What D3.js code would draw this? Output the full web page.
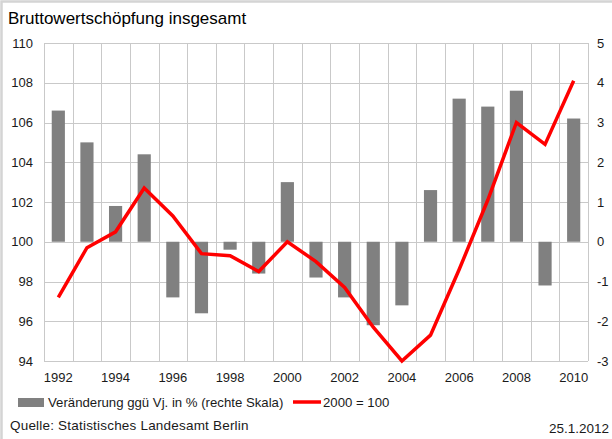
<!DOCTYPE html>
<html>
<head>
<meta charset="utf-8">
<script src="https://cdn.jsdelivr.net/npm/d3@7"></script>
<style>
  body { margin: 0; background: #fff; }
  svg { display: block; font-family: "Liberation Sans", Arial, sans-serif; }
</style>
</head>
<body>
<div id="chart"></div>
<script>
// Bruttowertschöpfung insgesamt - Berlin

// Data
let years = ["1992", "1993", "1994", "1995", "1996", "1997", "1998", "1999", "2000", "2001",
             "2002", "2003", "2004", "2005", "2006", "2007", "2008", "2009", "2010"];

// Veränderung ggü Vj. in % (right scale)
let changes = [3.3, 2.5, 0.9, 2.2, -1.4, -1.8, -0.2, -0.8, 1.5, -0.9,
               -1.4, -2.1, -1.6, 1.3, 3.6, 3.4, 3.8, -1.1, 3.1];

// 2000 = 100 (left scale)
let index = [97.2, 99.7, 100.5, 102.7, 101.3, 99.4, 99.3, 98.5, 100.0, 99.0,
             97.7, 95.7, 94.0, 95.3, 98.6, 102.1, 106.0, 104.9, 108.1];

let leftTicks = [94, 96, 98, 100, 102, 104, 106, 108, 110];
let rightTicks = [-3, -2, -1, 0, 1, 2, 3, 4, 5];
let yearLabels = ["1992", "1994", "1996", "1998", "2000", "2002", "2004", "2006", "2008", "2010"];

// Sizes
let width = 612;
let height = 439;
let plot = { left: 44, right: 588, top: 43, bottom: 361 };

// Colours
let gridColor = "#c9c9c9";
let barColor = "#808080";
let lineColor = "#ff0000";
let textColor = "#1a1a1a";

let svg = d3.select("#chart")
    .append("svg")
    .attr("width", width)
    .attr("height", height);

// frame round the picture (only top and left show)
svg.append("path")
    .attr("d", `M1.5,${height} V1.5 H${width}`)
    .style("fill", "none")
    .style("stroke", "#d4d4d4")
    .style("stroke-width", 2.5);

// Scales
let x = d3.scaleBand()
    .domain(years)
    .range([plot.left, plot.right])
    .padding(0);

let yLeft = d3.scaleLinear()
    .domain([94, 110])
    .range([plot.bottom, plot.top]);

let yRight = d3.scaleLinear()
    .domain([-3, 5])
    .range([plot.bottom, plot.top]);

// Grid: horizontal lines
svg.append("g")
    .selectAll("line")
    .data(leftTicks)
    .enter().append("line")
    .attr("x1", plot.left)
    .attr("x2", plot.right)
    .attr("y1", d => Math.round(yLeft(d)) + 0.5)
    .attr("y2", d => Math.round(yLeft(d)) + 0.5)
    .style("stroke", gridColor);

// Grid: vertical lines between years
let bounds = years.map(d => x(d)).concat([plot.right]);
svg.append("g")
    .selectAll("line")
    .data(bounds)
    .enter().append("line")
    .attr("x1", d => Math.round(d) + 0.5)
    .attr("x2", d => Math.round(d) + 0.5)
    .attr("y1", plot.top)
    .attr("y2", plot.bottom)
    .style("stroke", gridColor);

// Bars (right scale)
let barWidth = x.bandwidth() * 0.46;
svg.append("g")
    .selectAll("rect")
    .data(changes)
    .enter().append("rect")
    .attr("x", (d, i) => x(years[i]) + (x.bandwidth() - barWidth) / 2)
    .attr("y", d => yRight(Math.max(0, d)))
    .attr("width", barWidth)
    .attr("height", d => Math.abs(yRight(d) - yRight(0)))
    .style("fill", barColor);

// Line (left scale)
let line = d3.line()
    .x((d, i) => x(years[i]) + x.bandwidth() / 2)
    .y(d => yLeft(d));

svg.append("path")
    .datum(index)
    .attr("d", line)
    .style("fill", "none")
    .style("stroke", lineColor)
    .style("stroke-width", 3.5);

// Left axis labels
svg.append("g")
    .selectAll("text")
    .data(leftTicks)
    .enter().append("text")
    .attr("x", 33)
    .attr("y", d => yLeft(d))
    .attr("dy", "0.36em")
    .attr("text-anchor", "end")
    .style("font-size", "13px")
    .style("fill", textColor)
    .text(d => d);

// Right axis labels
svg.append("g")
    .selectAll("text")
    .data(rightTicks)
    .enter().append("text")
    .attr("x", 597)
    .attr("y", d => yRight(d))
    .attr("dy", "0.36em")
    .attr("text-anchor", "start")
    .style("font-size", "13px")
    .style("fill", textColor)
    .text(d => d);

// Year labels
svg.append("g")
    .selectAll("text")
    .data(yearLabels)
    .enter().append("text")
    .attr("x", d => x(d) + x.bandwidth() / 2)
    .attr("y", 382)
    .attr("text-anchor", "middle")
    .style("font-size", "13px")
    .style("fill", textColor)
    .text(d => d);

// Title
svg.append("text")
    .attr("x", 8)
    .attr("y", 24)
    .style("font-size", "17px")
    .style("fill", "#000")
    .text("Bruttowertschöpfung insgesamt");

// Legend
let legend = svg.append("g");
legend.append("rect")
    .attr("x", 18)
    .attr("y", 398)
    .attr("width", 26)
    .attr("height", 9)
    .style("fill", barColor);
legend.append("text")
    .attr("x", 48)
    .attr("y", 406.5)
    .style("font-size", "13.2px")
    .style("fill", textColor)
    .text("Veränderung ggü Vj. in % (rechte Skala)");
legend.append("line")
    .attr("x1", 293)
    .attr("x2", 321)
    .attr("y1", 402)
    .attr("y2", 402)
    .style("stroke", lineColor)
    .style("stroke-width", 3.5);
legend.append("text")
    .attr("x", 323)
    .attr("y", 406.5)
    .style("font-size", "13.2px")
    .style("fill", textColor)
    .text("2000 = 100");

// Source and date
svg.append("text")
    .attr("x", 10)
    .attr("y", 430)
    .style("font-size", "13.5px")
    .style("letter-spacing", "0.2px")
    .style("fill", textColor)
    .text("Quelle: Statistisches Landesamt Berlin");

svg.append("text")
    .attr("x", 609)
    .attr("y", 433)
    .attr("text-anchor", "end")
    .style("font-size", "13.5px")
    .style("fill", textColor)
    .text("25.1.2012");
</script>
</body>
</html>
